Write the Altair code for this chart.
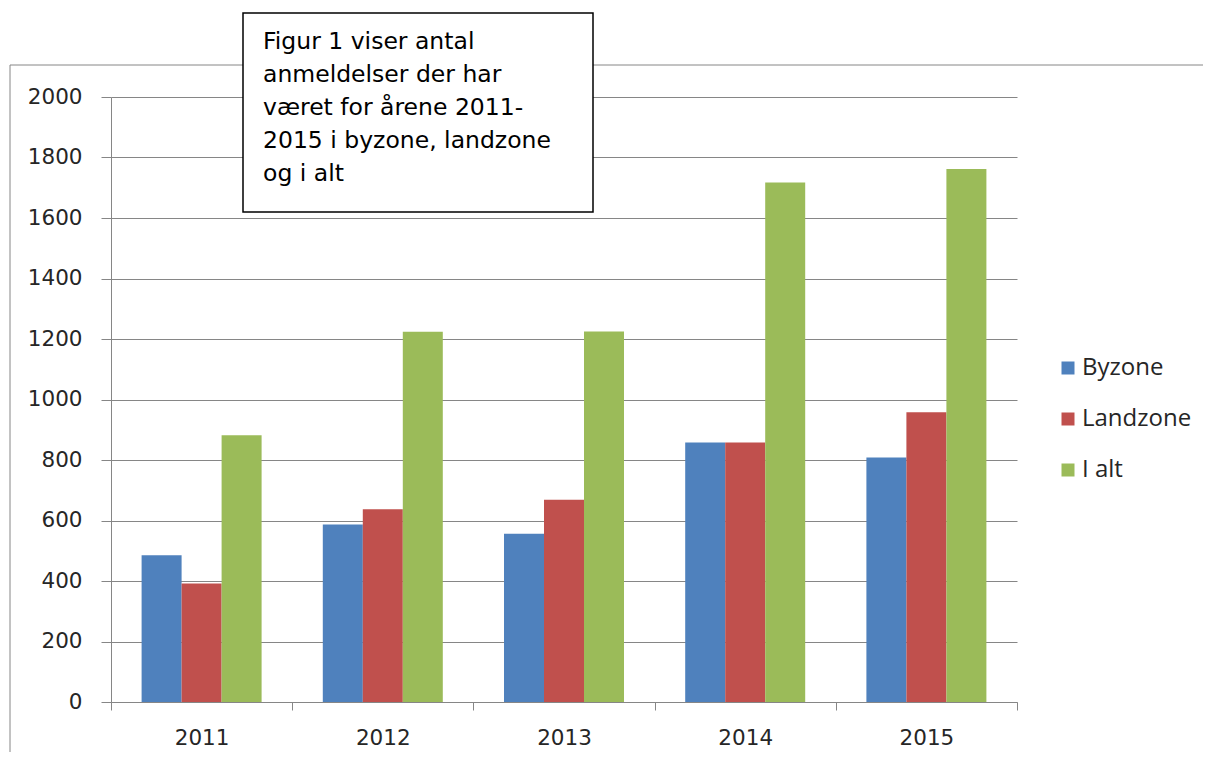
import altair as alt
import pandas as pd

years = ["2011", "2012", "2013", "2014", "2015"]
byzone = [485, 587, 556, 858, 808]
landzone = [392, 637, 669, 858, 958]
i_alt = [882, 1224, 1225, 1717, 1762]
series = ["Byzone", "Landzone", "I alt"]
colors = ["#4F81BD", "#C0504D", "#9BBB59"]
y_ticks = [0, 200, 400, 600, 800, 1000, 1200, 1400, 1600, 1800, 2000]
note_lines = [
    "Figur 1 viser antal",
    "anmeldelser der har",
    "været for årene 2011-",
    "2015 i byzone, landzone",
    "og i alt",
]

rows = []
for name, vals in zip(series, [byzone, landzone, i_alt]):
    for yr, v in zip(years, vals):
        rows.append({"År": yr, "Serie": name, "Antal": v})
df = pd.DataFrame(rows)
one = pd.DataFrame({"k": [0]})

W, H = 906, 605
GRAY = "#868686"

border_top = alt.Chart(one).mark_rule(stroke=GRAY, strokeWidth=1).encode(
    x=alt.value(-101), x2=alt.value(1100), y=alt.value(-32)
)
border_left = alt.Chart(one).mark_rule(stroke=GRAY, strokeWidth=1).encode(
    x=alt.value(-101), y=alt.value(-32), y2=alt.value(700)
)

bars = alt.Chart(df).mark_bar(cornerRadius=0).encode(
    x=alt.X(
        "År:N",
        sort=years,
        scale=alt.Scale(paddingInner=0, paddingOuter=0),
        axis=alt.Axis(
            title=None, labelAngle=0, tickBand="extent", grid=False,
            tickSize=8, labelPadding=17, labelFont="DejaVu Sans", labelFontSize=21.5,
            labelColor="#262626", domainColor=GRAY, tickColor=GRAY,
        ),
    ),
    xOffset=alt.XOffset(
        "Serie:N", sort=series, scale=alt.Scale(paddingInner=0, paddingOuter=0.765)
    ),
    y=alt.Y(
        "Antal:Q",
        scale=alt.Scale(domain=[0, 2000], nice=False),
        axis=alt.Axis(
            title=None, values=y_ticks, format="d", grid=True, gridColor=GRAY,
            tickSize=10, labelPadding=19, labelFont="DejaVu Sans", labelFontSize=21.5,
            labelColor="#262626", domainColor=GRAY, tickColor=GRAY,
        ),
    ),
    color=alt.Color(
        "Serie:N",
        sort=series,
        scale=alt.Scale(domain=series, range=colors),
        legend=alt.Legend(
            title=None, orient="none", legendX=945, legendY=259, padding=0,
            symbolType="square", symbolSize=169, symbolStrokeWidth=0, symbolOpacity=1,
            labelFont="Open Sans", labelFontSize=24, labelColor="#262626",
            labelOffset=2, rowPadding=27,
        ),
    ),
)

box = alt.Chart(one).mark_rect(fill="white", stroke="black", strokeWidth=1.5).encode(
    x=alt.value(132), x2=alt.value(482), y=alt.value(-84), y2=alt.value(115)
)

note = alt.Chart(one).mark_text(
    align="left", baseline="alphabetic", font="DejaVu Sans", fontSize=23.5,
    lineHeight=33, color="black", text=note_lines,
).encode(x=alt.value(152), y=alt.value(-48))

chart = (
    alt.layer(border_top, border_left, bars, box, note)
    .properties(
        width=W, height=H,
        padding={"left": 103, "top": 89, "right": 186, "bottom": 50},
        autosize=alt.AutoSizeParams(type="none"),
        background="white",
    )
    .configure_view(strokeWidth=0)
)

chart.save("out.html", embed_options={"renderer": "svg", "actions": False})
